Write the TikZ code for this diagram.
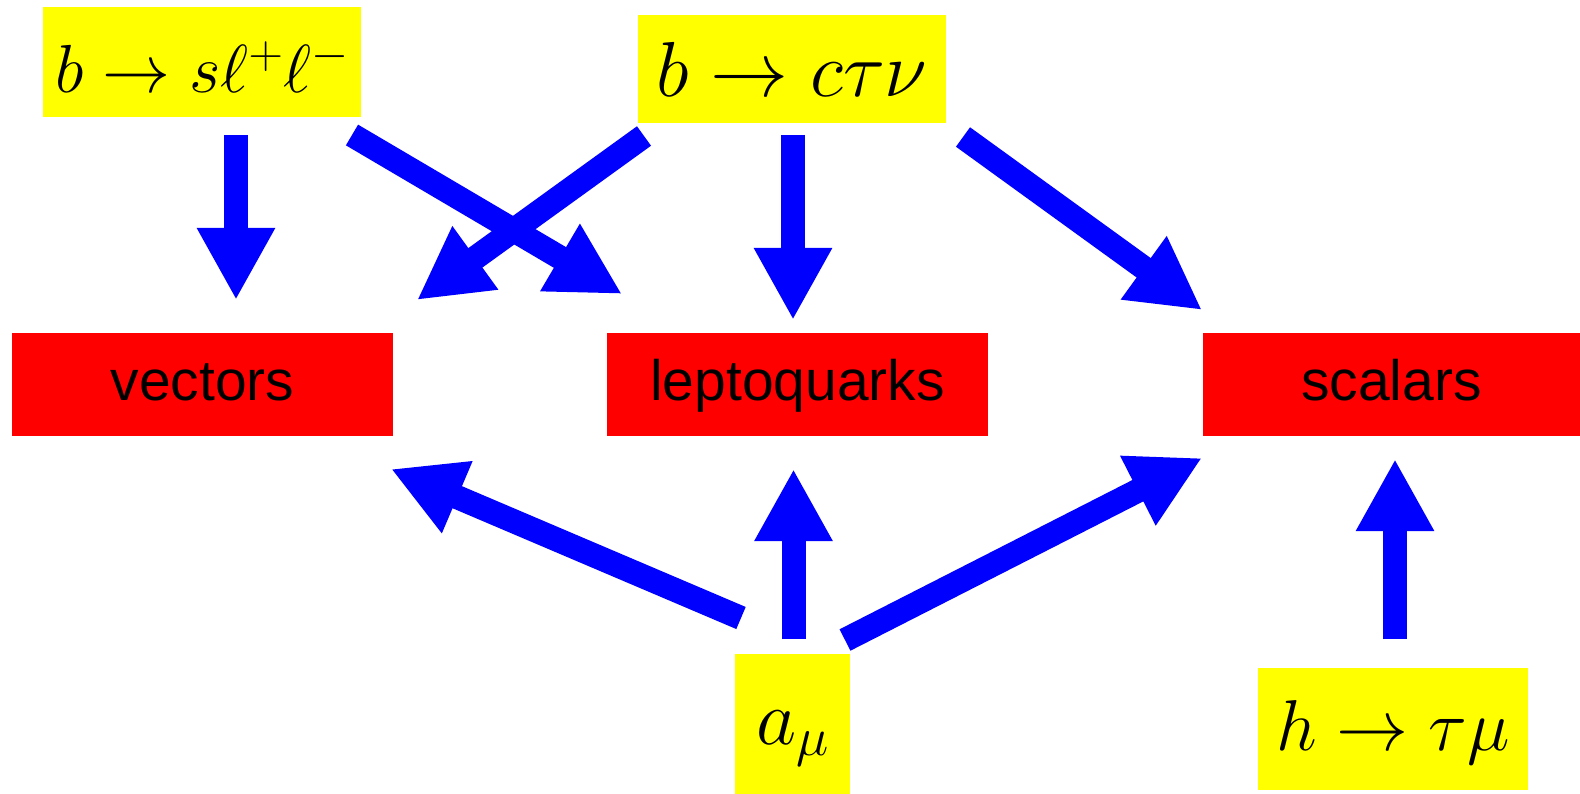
\RequirePackage{fix-cm}
\documentclass[tikz,border=0pt]{standalone}
\usepackage{fontspec}
\setsansfont{Liberation Sans}
\usetikzlibrary{arrows.meta,calc}
\definecolor{boxyellow}{RGB}{255,255,0}
\definecolor{boxred}{RGB}{255,0,0}
\definecolor{arrowblue}{RGB}{0,0,255}
\begin{document}
\begin{tikzpicture}[x=1pt,y=-1pt,
  box/.style={rectangle, inner sep=0pt, outer sep=0pt, draw=none, text=black},
  ybox/.style={box, fill=boxyellow},
  rbox/.style={box, fill=boxred, minimum width=381pt, minimum height=103pt,
    font=\sffamily\fontsize{57}{60}\selectfont, text height=31pt, text depth=0pt},
  arr/.style={draw=arrowblue, line width=24pt, -{Triangle[width=73pt,length=72pt]}}
]
\useasboundingbox (0,0) rectangle (1580,794);
% sources
\node[ybox, minimum width=318pt, minimum height=110pt,
  font=\fontsize{68}{72}\selectfont, text height=62pt, text depth=0pt]
  (bsll) at (202,62) {$b\to s\ell^{+}\ell^{-}$};
\node[ybox, minimum width=308pt, minimum height=108pt,
  font=\fontsize{78}{82}\selectfont, text height=56pt, text depth=0pt]
  (bctn) at (792,69) {$b\to c\tau\nu$};
\node[ybox, minimum width=115pt, minimum height=140pt,
  font=\fontsize{78}{82}\selectfont, text height=40pt, text depth=0pt]
  (amu) at (792.5,724) {$a_{\mu}$};
\node[ybox, minimum width=270pt, minimum height=122pt,
  font=\fontsize{72}{76}\selectfont, text height=42pt, text depth=0pt]
  (htm) at (1393,729) {$h\to\tau\mu$};
% targets
\node[rbox] (vec) at (202.5,384.5) {vectors};
\node[rbox] (lq) at (797.5,384.5) {leptoquarks};
\node[rbox, minimum width=377pt] (sc) at (1391.5,384.5) {scalars};
% arrows
\draw[arr] ($(bsll.south)+(34,18)$) -- ($(vec.north)+(33.5,-33)$);
\draw[arr] ($(bsll.south east)+(-9,18)$) -- ($(lq.north west)+(15,-39)$);
\draw[arr] ($(bctn.south west)+(6,13)$) -- ($(vec.north east)+(24,-33)$);
\draw[arr] ($(bctn.south)+(1,12)$) -- ($(lq.north)+(-4.5,-13)$);
\draw[arr] ($(bctn.south east)+(17,14)$) -- ($(sc.north west)+(-1,-23)$);
\draw[arr] ($(amu.north west)+(6,-36)$) -- ($(vec.south east)+(-2,33)$);
\draw[arr] ($(amu.north)+(1,-15)$) -- ($(lq.south)+(-4,33)$);
\draw[arr] ($(amu.north east)+(-5,-14)$) -- ($(sc.south west)+(-1,22)$);
\draw[arr] ($(htm.north)+(2,-29)$) -- ($(sc.south)+(3.5,23)$);
\end{tikzpicture}
\end{document}
